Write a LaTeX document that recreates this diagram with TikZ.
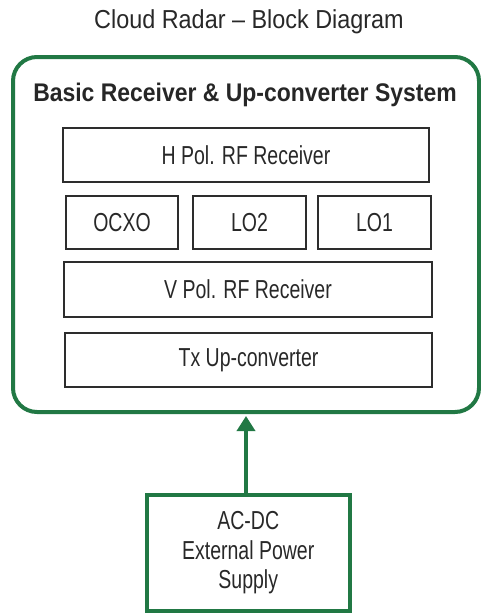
\documentclass[tikz,border=0pt]{standalone}
\usepackage{fontspec}
\setmainfont{Liberation Sans}[FakeStretch=0.75]
\newfontfamily\widefont{Liberation Sans}[FakeStretch=0.9,Ligatures=TeX]
\usepackage{tikz}
\usetikzlibrary{arrows.meta,positioning}
\definecolor{radargreen}{RGB}{33,120,68}
\definecolor{boxgray}{RGB}{45,45,45}
\definecolor{txtgray}{RGB}{40,40,40}

\begin{document}
\begin{tikzpicture}[x=1pt,y=-1pt,
	unit/.style={shape=rectangle,draw=boxgray,line width=1.4pt,inner sep=0pt,
		text=txtgray,font=\fontsize{26}{29.5}\selectfont},
	frame/.style={shape=rectangle,draw=radargreen,line width=4pt,inner sep=0pt}]
	\useasboundingbox (0,0) rectangle (481,613);
	\path (249,22) node (title) [text=txtgray,font=\widefont\fontsize{26}{29}\selectfont] {Cloud Radar – Block Diagram}
		  (246,234.5) node (sys) [frame,rounded corners=24pt,minimum width=466pt,minimum height=355pt] {}
		  (245,95) node (head) [text=black!85,font=\widefont\fontsize{25.5}{29}\bfseries\selectfont] {Basic Receiver \& Up-converter System};
	\path (246,155) node (hpol) [unit,minimum width=366pt,minimum height=54pt] {H Pol. RF Receiver}
		  (122,222.5) node (ocxo) [unit,minimum width=112pt,minimum height=53pt] {OCXO}
		  (249.5,222.5) node (lo2) [unit,minimum width=113pt,minimum height=53pt] {LO2}
		  (374.5,222.5) node (lo1) [unit,minimum width=113pt,minimum height=53pt] {LO1}
		  (248,289.5) node (vpol) [unit,minimum width=368pt,minimum height=55pt] {V Pol. RF Receiver}
		  (248.5,360) node (tx) [unit,minimum width=367pt,minimum height=54pt] {Tx Up-converter};
	\path (248.25,553) node (psu) [frame,minimum width=203.5pt,minimum height=116pt,
		text=txtgray,align=center,font=\fontsize{26}{29.5}\selectfont] {AC-DC\\External Power\\Supply};
	\draw [radargreen,line width=3.5pt,-{Triangle[length=15pt,width=18pt]}] (psu.north -| sys.south) -- ([yshift=-2pt]sys.south);
\end{tikzpicture}
\end{document}
